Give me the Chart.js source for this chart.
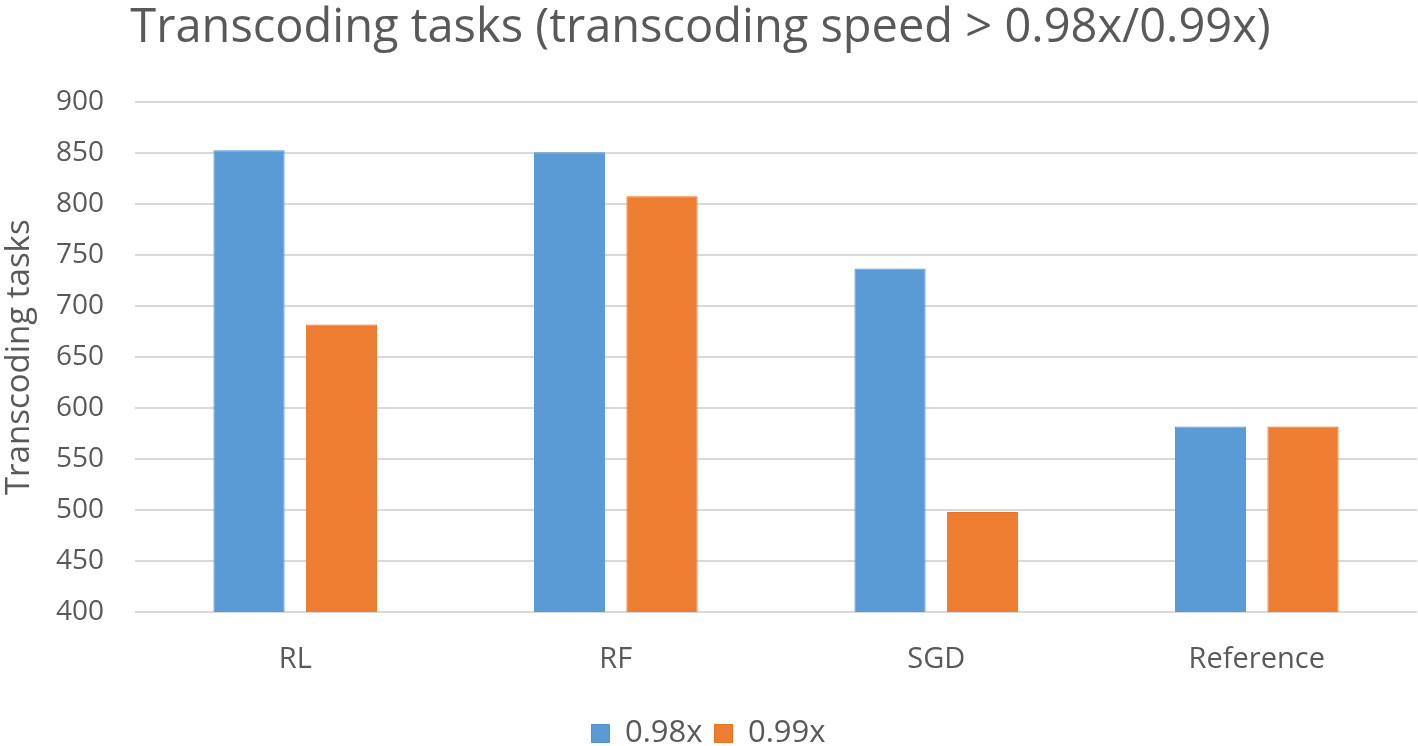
<!DOCTYPE html>
<html>
<head>
<meta charset="utf-8">
<script src="https://cdn.jsdelivr.net/npm/chart.js@4"></script>
<style>
  html, body { margin: 0; padding: 0; background: #ffffff; overflow: hidden; }
  #clip { width: 1418px; height: 746px; overflow: hidden; position: relative; }
  #wrap { width: 1418px; height: 759px; position: absolute; left: 0; top: 0; }
</style>
</head>
<body>
<div id="clip"><div id="wrap"><canvas id="c"></canvas></div></div>
<script>
const categories = ['RL', 'RF', 'SGD', 'Reference'];
const seriesNames = ['0.98x', '0.99x'];
const tasks098 = [853, 851, 737, 582];
const tasks099 = [682, 808, 498, 582];
const yTicks = [400, 450, 500, 550, 600, 650, 700, 750, 800, 850, 900];
const titleText = 'Transcoding tasks (transcoding speed > 0.98x/0.99x)';
const yTitleText = 'Transcoding tasks';

const FONT = '"Open Sans", "Noto Sans", sans-serif';
const TXT = '#595959';

const shiftTitle = {
  id: 'shiftTitle',
  afterLayout(chart) {
    if (chart.titleBlock) { chart.titleBlock.left -= 16; }
  }
};

new Chart(document.getElementById('c'), {
  type: 'bar',
  data: {
    labels: categories,
    datasets: [
      { label: seriesNames[0], data: tasks098, backgroundColor: '#5B9BD5', borderColor: '#4F92D0', borderWidth: 1,
        categoryPercentage: 0.577, barPercentage: 0.77 },
      { label: seriesNames[1], data: tasks099, backgroundColor: '#ED7D31', borderColor: '#E57325', borderWidth: 1,
        categoryPercentage: 0.577, barPercentage: 0.77 }
    ]
  },
  plugins: [shiftTitle],
  options: {
    responsive: true,
    maintainAspectRatio: false,
    animation: false,
    layout: { padding: { left: 0, right: 1, top: 0, bottom: 0 } },
    plugins: {
      title: {
        display: true, text: titleText, color: TXT,
        font: { family: FONT, size: 47, weight: 'normal' },
        padding: { top: 0, bottom: 46 }
      },
      legend: {
        position: 'bottom',
        labels: {
          color: TXT, font: { family: FONT, size: 31 },
          boxWidth: 18, boxHeight: 18, padding: 12
        }
      },
      tooltip: { enabled: false }
    },
    scales: {
      x: {
        grid: { display: false, drawTicks: false },
        border: { display: false },
        ticks: { color: TXT, font: { family: FONT, size: 29 }, padding: 30 },
        afterFit: (s) => { s.height = 94; }
      },
      y: {
        min: 400, max: 900,
        afterBuildTicks: (s) => { s.ticks = yTicks.map(v => ({ value: v })); },
        grid: { color: '#D9D9D9', lineWidth: 2, drawTicks: false },
        border: { display: false },
        ticks: { color: TXT, font: { family: FONT, size: 28 }, padding: 31 },
        title: { display: true, text: yTitleText, color: TXT, font: { family: FONT, size: 33 }, padding: { top: 0, bottom: 0 } },
        afterFit: (s) => { s.width = 135; }
      }
    }
  }
});
</script>
</body>
</html>
